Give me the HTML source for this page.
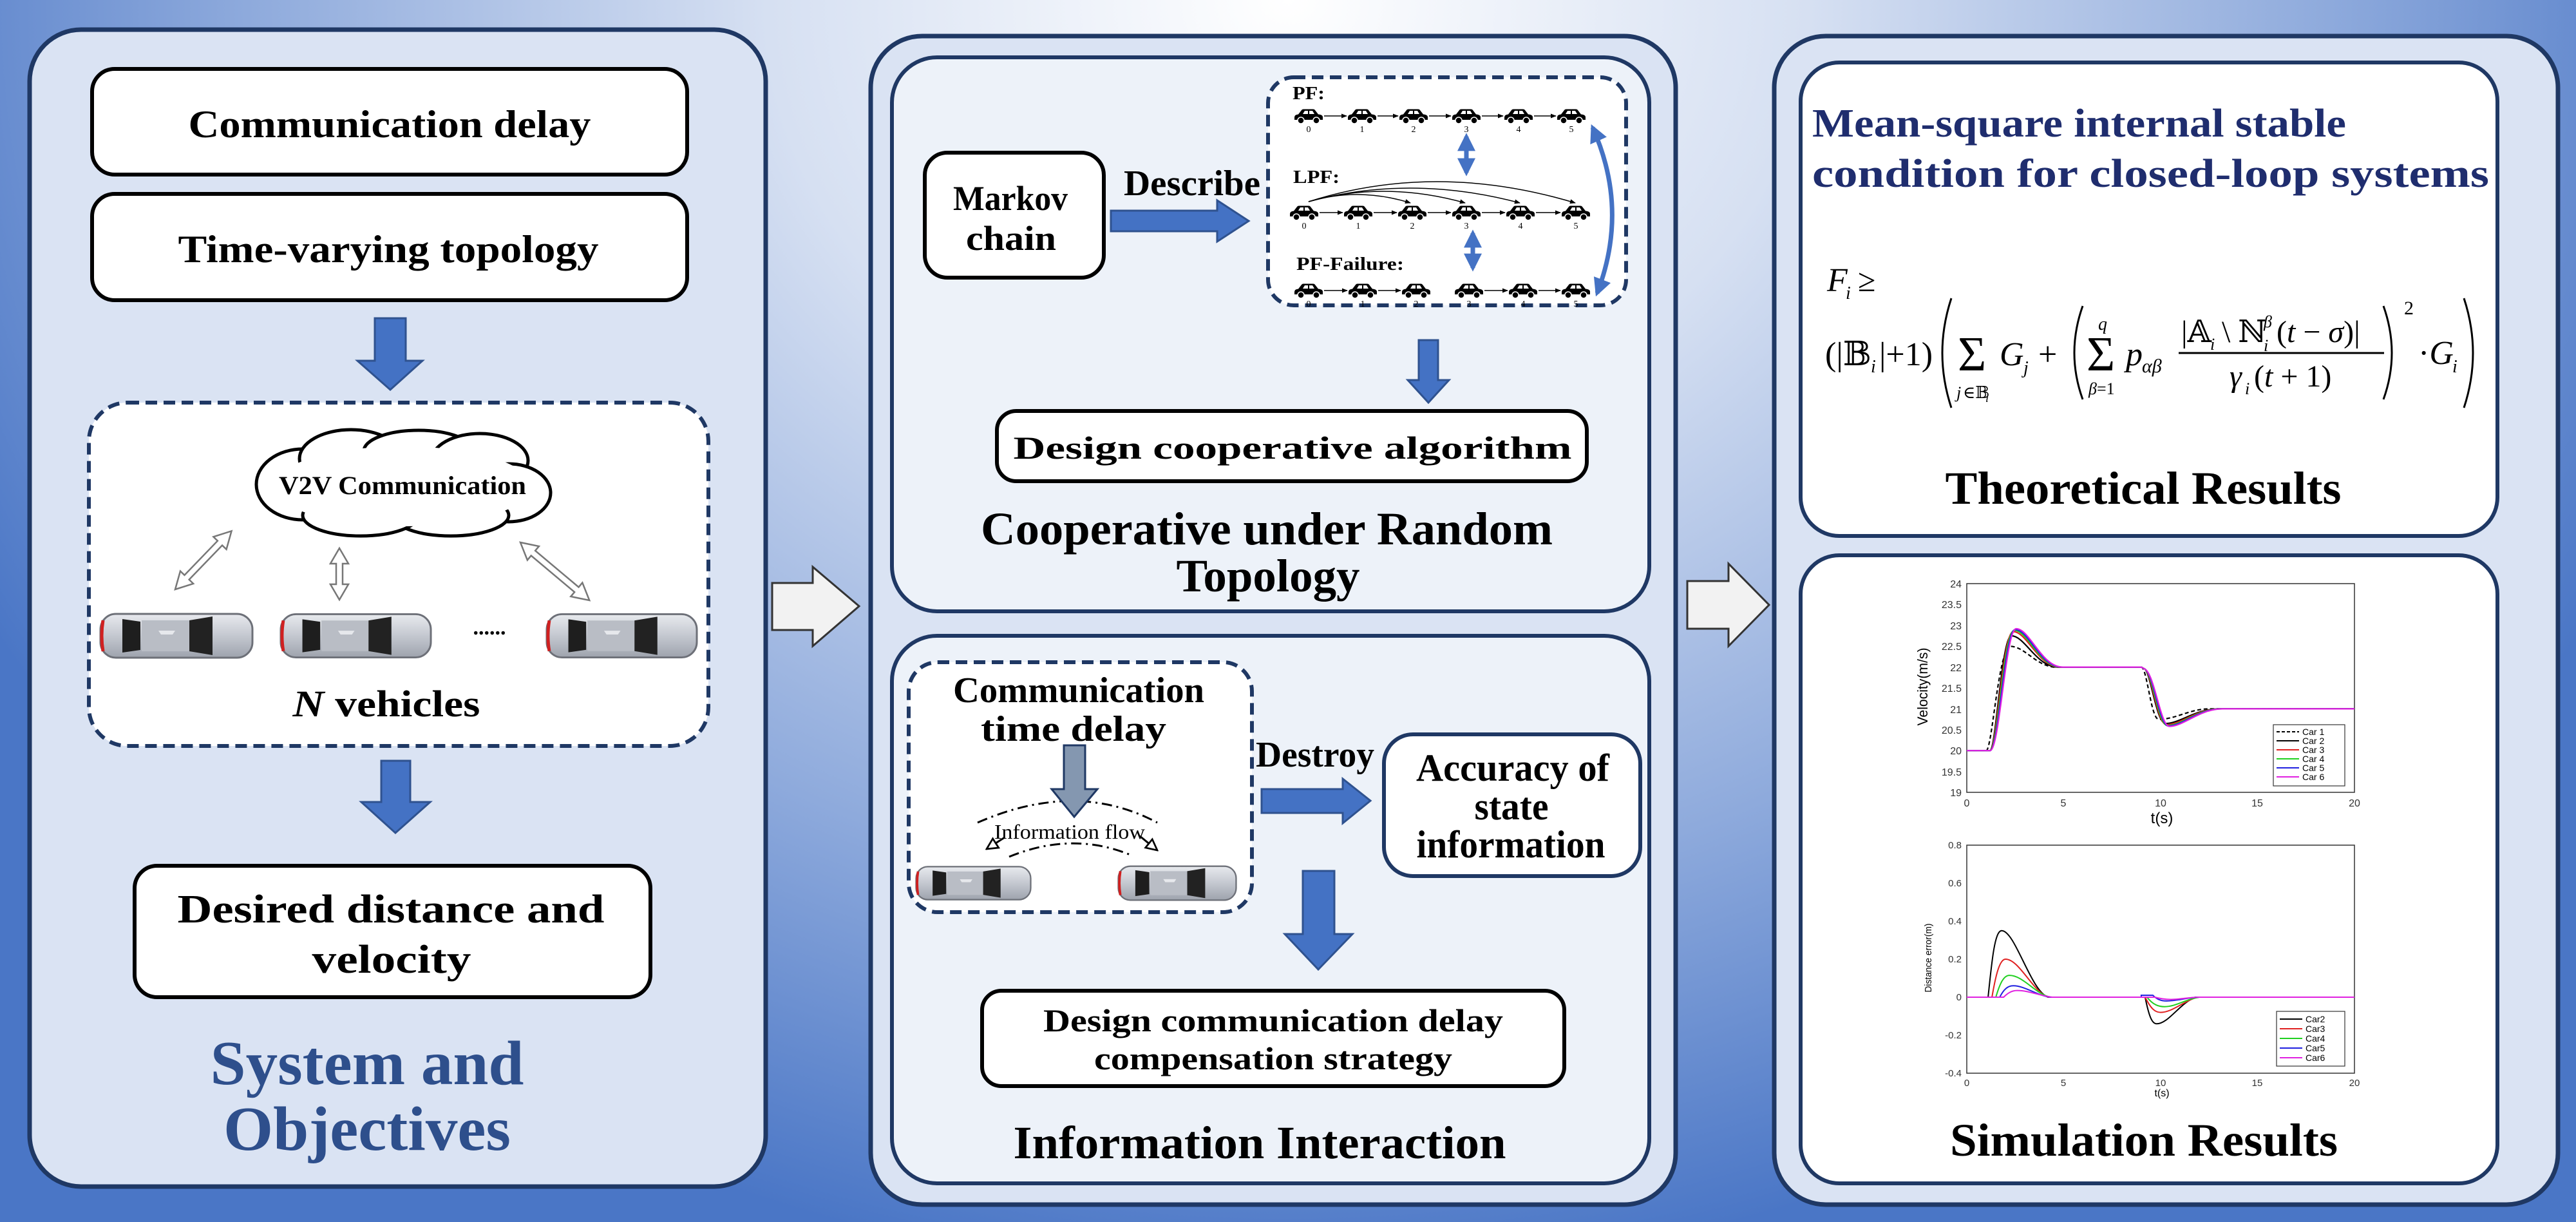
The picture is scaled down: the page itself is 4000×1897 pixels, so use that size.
<!DOCTYPE html>
<html><head><meta charset="utf-8"><style>
html,body{margin:0;padding:0;width:4000px;height:1897px;overflow:hidden}
svg{display:block}
.b{font-family:"Liberation Serif",serif;font-weight:bold}
.m{font-family:"Liberation Serif","DejaVu Serif",serif}
.s{font-family:"Liberation Sans",sans-serif}
</style></head><body>
<svg width="4000" height="1897" viewBox="0 0 4000 1897" xmlns="http://www.w3.org/2000/svg">
<defs>
<radialGradient id="bg" cx="0.5" cy="0" r="1.05" gradientTransform="translate(0.5 0) scale(0.55 1) translate(-0.5 0)">
<stop offset="0" stop-color="#ffffff"/><stop offset="0.35" stop-color="#d6e0f2"/><stop offset="0.7" stop-color="#8eaadc"/><stop offset="1" stop-color="#4a76c6"/></radialGradient>
<linearGradient id="silver" x1="0" y1="0" x2="0" y2="1"><stop offset="0" stop-color="#e8eaee"/><stop offset="0.5" stop-color="#c4c8d0"/><stop offset="1" stop-color="#9ea3ad"/></linearGradient>
<symbol id="car" viewBox="0 0 240 76">
<rect x="2" y="4" width="236" height="68" rx="24" fill="url(#silver)" stroke="#6d7078" stroke-width="3"/>
<path d="M6 14 Q2 38 6 62" stroke="#d02020" stroke-width="5" fill="none"/>
<path d="M36 12 L64 16 L64 60 L36 64 Z" fill="#1e1e1e"/>
<rect x="66" y="14" width="74" height="48" fill="#b9bdc5"/>
<path d="M140 14 L176 8 L176 68 L140 62 Z" fill="#222"/>
<path d="M92 30 L118 30 L114 36 L96 36 Z" fill="#e6e8ec"/>
</symbol>
<symbol id="bcar" viewBox="0 0 46 26">
<path d="M1 19 L1 15 Q1 11 7 10.5 L12 4 Q13 2.5 15 2.5 L30 2.5 Q32 2.5 33 4 L38 10.5 Q45 11 45 15 L45 19 Z" fill="#000"/>
<path d="M14 10 L17 5 L22 5 L22 10 Z M24 10 L24 5 L29 5 L32 10 Z" fill="#fff"/>
<circle cx="11" cy="20" r="5" fill="#000" stroke="#fff" stroke-width="1.5"/>
<circle cx="35" cy="20" r="5" fill="#000" stroke="#fff" stroke-width="1.5"/>
</symbol>
<marker id="ah" viewBox="0 0 10 10" refX="9" refY="5" markerWidth="6" markerHeight="6" orient="auto"><path d="M0 1 L10 5 L0 9Z" fill="#000"/></marker>
<marker id="bh" viewBox="0 0 10 10" refX="8" refY="5" markerWidth="4" markerHeight="4.5" orient="auto-start-reverse"><path d="M0 0 L10 5 L0 10Z" fill="#4472c4"/></marker>
<marker id="oh" viewBox="0 0 10 10" refX="9" refY="5" markerWidth="7" markerHeight="7" orient="auto"><path d="M1 1 L9 5 L1 9Z" fill="#fff" stroke="#000" stroke-width="1.3"/></marker>
</defs>
<rect width="4000" height="1897" fill="url(#bg)"/>

<!-- Panels -->
<rect x="46" y="46" width="1143" height="1796" rx="80" fill="#dae3f3" stroke="#1f3864" stroke-width="7"/>
<rect x="1352" y="56" width="1250" height="1814" rx="80" fill="#dae3f3" stroke="#1f3864" stroke-width="7"/>
<rect x="1385" y="89" width="1176" height="860" rx="70" fill="#edf2f9" stroke="#1f3864" stroke-width="6"/>
<rect x="1385" y="987" width="1176" height="850" rx="70" fill="#edf2f9" stroke="#1f3864" stroke-width="6"/>
<rect x="2755" y="56" width="1217" height="1814" rx="80" fill="#dae3f3" stroke="#1f3864" stroke-width="7"/>
<rect x="2796" y="97" width="1082" height="735" rx="60" fill="#fff" stroke="#1f3864" stroke-width="6"/>
<rect x="2796" y="862" width="1082" height="975" rx="60" fill="#fff" stroke="#1f3864" stroke-width="6"/>

<!-- LEFT PANEL -->
<rect x="143" y="107" width="924" height="164" rx="35" fill="#fff" stroke="#000" stroke-width="6"/>
<text class="b" x="605" y="213" font-size="60" text-anchor="middle" textLength="625" lengthAdjust="spacingAndGlyphs">Communication delay</text>
<rect x="143" y="301" width="924" height="165" rx="35" fill="#fff" stroke="#000" stroke-width="6"/>
<text class="b" x="603" y="407" font-size="60" text-anchor="middle" textLength="653" lengthAdjust="spacingAndGlyphs">Time-varying topology</text>
<polygon points="582,494 630,494 630,560 656,560 606,605 555,560 582,560" fill="#4472c4" stroke="#2f528f" stroke-width="3"/>
<rect x="138" y="625" width="962" height="533" rx="60" fill="#fff" stroke="#1f3864" stroke-width="6" stroke-dasharray="18 10"/>
<g stroke="#000" stroke-width="5" fill="#fff">
<ellipse cx="470" cy="752" rx="72" ry="55"/><ellipse cx="545" cy="712" rx="80" ry="45"/><ellipse cx="650" cy="700" rx="85" ry="32"/>
<ellipse cx="745" cy="715" rx="75" ry="42"/><ellipse cx="790" cy="765" rx="65" ry="45"/><ellipse cx="700" cy="800" rx="90" ry="32"/><ellipse cx="560" cy="800" rx="90" ry="32"/>
</g>
<ellipse cx="625" cy="755" rx="200" ry="62" fill="#fff"/>
<text class="b" x="625" y="767" font-size="40" text-anchor="middle" textLength="384" lengthAdjust="spacingAndGlyphs">V2V Communication</text>
<g fill="#fff" stroke="#777" stroke-width="2.5">
<g transform="translate(272,915) rotate(-46)"><polygon points="0,0 26,-14 26,-5 100,-5 100,-14 126,0 100,14 100,5 26,5 26,14"/></g>
<g transform="translate(527,851) rotate(90)"><polygon points="0,0 24,-14 24,-5 56,-5 56,-14 80,0 56,14 56,5 24,5 24,14"/></g>
<g transform="translate(808,842) rotate(40)"><polygon points="0,0 26,-14 26,-5 114,-5 114,-14 140,0 114,14 114,5 26,5 26,14"/></g>
</g>
<use href="#car" x="153" y="949" width="242" height="76"/>
<use href="#car" x="434" y="949" width="237" height="76"/>
<use href="#car" x="847" y="949" width="237" height="76"/>
<text class="b" x="760" y="985" font-size="34" text-anchor="middle">......</text>
<text class="b" x="600" y="1112" font-size="58" text-anchor="middle" textLength="291" lengthAdjust="spacingAndGlyphs"><tspan font-style="italic">N</tspan> vehicles</text>
<polygon points="592,1181 637,1181 637,1245 668,1245 614,1293 561,1245 592,1245" fill="#4472c4" stroke="#2f528f" stroke-width="3"/>
<rect x="209" y="1344" width="801" height="204" rx="35" fill="#fff" stroke="#000" stroke-width="6"/>
<text class="b" x="607" y="1432" font-size="62" text-anchor="middle" textLength="663" lengthAdjust="spacingAndGlyphs">Desired distance and</text>
<text class="b" x="608" y="1510" font-size="62" text-anchor="middle" textLength="247" lengthAdjust="spacingAndGlyphs">velocity</text>
<text class="b" x="570" y="1683" font-size="98" text-anchor="middle" fill="#2e4f8c" textLength="487" lengthAdjust="spacingAndGlyphs">System and</text>
<text class="b" x="570" y="1785" font-size="98" text-anchor="middle" fill="#2e4f8c" textLength="446" lengthAdjust="spacingAndGlyphs">Objectives</text>

<polygon points="1199,905 1262,905 1262,880 1334,941 1262,1003 1262,978 1199,978" fill="#f2f2f2" stroke="#333" stroke-width="3"/>
<polygon points="2620,902 2684,902 2684,875 2747,939 2684,1003 2684,976 2620,976" fill="#f2f2f2" stroke="#333" stroke-width="3"/>

<!-- MIDDLE TOP -->
<rect x="1436" y="237" width="278" height="194" rx="35" fill="#fff" stroke="#000" stroke-width="6"/>
<text class="b" x="1569" y="326" font-size="54" text-anchor="middle" textLength="178" lengthAdjust="spacingAndGlyphs">Markov</text>
<text class="b" x="1570" y="388" font-size="54" text-anchor="middle" textLength="140" lengthAdjust="spacingAndGlyphs">chain</text>
<text class="b" x="1851" y="303" font-size="56" text-anchor="middle" textLength="212" lengthAdjust="spacingAndGlyphs">Describe</text>
<polygon points="1725,327 1890,327 1890,311 1939,343 1890,375 1890,359 1725,359" fill="#4472c4" stroke="#2f528f" stroke-width="3"/>
<rect x="1969" y="120" width="556" height="354" rx="40" fill="#fff" stroke="#1f3864" stroke-width="6" stroke-dasharray="18 10"/>
<text class="b" x="2007" y="154" font-size="28" textLength="50" lengthAdjust="spacingAndGlyphs">PF:</text>
<text class="b" x="2008" y="284" font-size="28" textLength="72" lengthAdjust="spacingAndGlyphs">LPF:</text>
<text class="b" x="2013" y="419" font-size="28" textLength="167" lengthAdjust="spacingAndGlyphs">PF-Failure:</text>
<g>
<use href="#bcar" x="2009" y="167" width="46" height="26"/><use href="#bcar" x="2092" y="167" width="46" height="26"/><use href="#bcar" x="2172" y="167" width="46" height="26"/><use href="#bcar" x="2254" y="167" width="46" height="26"/><use href="#bcar" x="2335" y="167" width="46" height="26"/><use href="#bcar" x="2417" y="167" width="46" height="26"/>
<use href="#bcar" x="2002" y="317" width="46" height="26"/><use href="#bcar" x="2086" y="317" width="46" height="26"/><use href="#bcar" x="2170" y="317" width="46" height="26"/><use href="#bcar" x="2254" y="317" width="46" height="26"/><use href="#bcar" x="2338" y="317" width="46" height="26"/><use href="#bcar" x="2424" y="317" width="46" height="26"/>
<use href="#bcar" x="2009" y="438" width="46" height="26"/><use href="#bcar" x="2093" y="438" width="46" height="26"/><use href="#bcar" x="2176" y="438" width="46" height="26"/><use href="#bcar" x="2258" y="438" width="46" height="26"/><use href="#bcar" x="2342" y="438" width="46" height="26"/><use href="#bcar" x="2424" y="438" width="46" height="26"/>
</g>
<g stroke="#000" stroke-width="1.5" marker-end="url(#ah)">
<line x1="2056" y1="180" x2="2091" y2="180"/><line x1="2139" y1="180" x2="2171" y2="180"/><line x1="2219" y1="180" x2="2253" y2="180"/><line x1="2301" y1="180" x2="2334" y2="180"/><line x1="2382" y1="180" x2="2416" y2="180"/>
<line x1="2049" y1="330" x2="2085" y2="330"/><line x1="2133" y1="330" x2="2169" y2="330"/><line x1="2217" y1="330" x2="2253" y2="330"/><line x1="2301" y1="330" x2="2337" y2="330"/><line x1="2385" y1="330" x2="2423" y2="330"/>
<line x1="2056" y1="451" x2="2092" y2="451"/><line x1="2140" y1="451" x2="2175" y2="451"/><line x1="2305" y1="451" x2="2341" y2="451"/><line x1="2389" y1="451" x2="2423" y2="451"/>
</g>
<g stroke="#000" stroke-width="1.5" fill="none" marker-end="url(#ah)">
<path d="M2032 313 Q2110 290 2190 315"/><path d="M2032 313 Q2150 280 2275 315"/><path d="M2032 313 Q2190 270 2360 315"/><path d="M2032 313 Q2230 250 2446 315"/>
</g>
<g class="m" font-size="14" text-anchor="middle">
<text x="2032" y="205">0</text><text x="2115" y="205">1</text><text x="2195" y="205">2</text><text x="2277" y="205">3</text><text x="2358" y="205">4</text><text x="2440" y="205">5</text>
<text x="2025" y="355">0</text><text x="2109" y="355">1</text><text x="2193" y="355">2</text><text x="2277" y="355">3</text><text x="2361" y="355">4</text><text x="2447" y="355">5</text>
<text x="2032" y="476">0</text><text x="2116" y="476">1</text><text x="2199" y="476">2</text><text x="2281" y="476">3</text><text x="2365" y="476">4</text><text x="2447" y="476">5</text>
</g>
<g stroke="#4472c4" stroke-width="7" fill="none" marker-start="url(#bh)" marker-end="url(#bh)">
<line x1="2277" y1="212" x2="2277" y2="268"/><line x1="2287" y1="362" x2="2287" y2="416"/>
<path d="M2473 198 Q2530 325 2480 455"/>
</g>
<polygon points="2203,528 2233,528 2233,590 2250,590 2218,625 2186,590 2203,590" fill="#4472c4" stroke="#2f528f" stroke-width="3"/>
<rect x="1548" y="638" width="916" height="109" rx="30" fill="#fff" stroke="#000" stroke-width="6"/>
<text class="b" x="2007" y="712" font-size="50" text-anchor="middle" textLength="867" lengthAdjust="spacingAndGlyphs">Design cooperative algorithm</text>
<text class="b" x="1967" y="845" font-size="72" text-anchor="middle" textLength="888" lengthAdjust="spacingAndGlyphs">Cooperative under Random</text>
<text class="b" x="1969" y="918" font-size="72" text-anchor="middle" textLength="285" lengthAdjust="spacingAndGlyphs">Topology</text>

<!-- MIDDLE BOTTOM -->
<rect x="1411" y="1028" width="533" height="388" rx="45" fill="#fff" stroke="#1f3864" stroke-width="6" stroke-dasharray="18 10"/>
<text class="b" x="1675" y="1090" font-size="56" text-anchor="middle" textLength="390" lengthAdjust="spacingAndGlyphs">Communication</text>
<text class="b" x="1667" y="1150" font-size="56" text-anchor="middle" textLength="288" lengthAdjust="spacingAndGlyphs">time delay</text>
<g stroke="#000" stroke-width="3" fill="none" stroke-dasharray="16 7 3 7">
<path d="M1518 1277 Q1671 1210 1797 1277"/>
<path d="M1567 1330 Q1665 1290 1755 1327"/>
</g>
<line x1="1560" y1="1300" x2="1532" y2="1318" stroke="#000" stroke-width="3" marker-end="url(#oh)"/>
<line x1="1770" y1="1298" x2="1797" y2="1320" stroke="#000" stroke-width="3" marker-end="url(#oh)"/>
<text class="m" x="1661" y="1302" font-size="32" text-anchor="middle" textLength="234" lengthAdjust="spacingAndGlyphs">Information flow</text>
<polygon points="1652,1157 1685,1157 1685,1225 1704,1225 1668,1268 1633,1225 1652,1225" fill="#8497b0" stroke="#1f3864" stroke-width="3"/>
<use href="#car" x="1421" y="1339" width="181" height="64"/>
<use href="#car" x="1735" y="1339" width="186" height="64"/>
<text class="b" x="2042" y="1190" font-size="56" text-anchor="middle" textLength="184" lengthAdjust="spacingAndGlyphs">Destroy</text>
<polygon points="1959,1225 2085,1225 2085,1209 2128,1243 2085,1278 2085,1262 1959,1262" fill="#4472c4" stroke="#2f528f" stroke-width="3"/>
<rect x="2149" y="1140" width="398" height="220" rx="45" fill="#fff" stroke="#1f3864" stroke-width="6"/>
<text class="b" x="2349" y="1212" font-size="60" text-anchor="middle" textLength="300" lengthAdjust="spacingAndGlyphs">Accuracy of</text>
<text class="b" x="2347" y="1272" font-size="60" text-anchor="middle" textLength="115" lengthAdjust="spacingAndGlyphs">state</text>
<text class="b" x="2346" y="1331" font-size="60" text-anchor="middle" textLength="293" lengthAdjust="spacingAndGlyphs">information</text>
<polygon points="2023,1352 2072,1352 2072,1450 2100,1450 2047,1505 1995,1450 2023,1450" fill="#4472c4" stroke="#2f528f" stroke-width="3"/>
<rect x="1525" y="1538" width="904" height="148" rx="30" fill="#fff" stroke="#000" stroke-width="6"/>
<text class="b" x="1977" y="1601" font-size="50" text-anchor="middle" textLength="714" lengthAdjust="spacingAndGlyphs">Design communication delay</text>
<text class="b" x="1977" y="1660" font-size="50" text-anchor="middle" textLength="556" lengthAdjust="spacingAndGlyphs">compensation strategy</text>
<text class="b" x="1956" y="1798" font-size="72" text-anchor="middle" textLength="765" lengthAdjust="spacingAndGlyphs">Information Interaction</text>

<!-- RIGHT TOP -->
<text class="b" x="2814" y="212" font-size="62" fill="#1f2d6e" textLength="829" lengthAdjust="spacingAndGlyphs">Mean-square internal stable</text>
<text class="b" x="2814" y="290" font-size="62" fill="#1f2d6e" textLength="1051" lengthAdjust="spacingAndGlyphs">condition for closed-loop systems</text>
<g class="m" fill="#000">
<text x="2837" y="452" font-size="52" font-style="italic">F</text><text x="2866" y="464" font-size="28" font-style="italic">i</text><text x="2885" y="452" font-size="50">≥</text>
<text x="2834" y="567" font-size="52">(|𝔹</text><text x="2905" y="578" font-size="28" font-style="italic">i</text><text x="2918" y="567" font-size="52">|+1)</text>
<text x="3040" y="575" font-size="76">Σ</text>
<text x="3038" y="618" font-size="26" font-style="italic">j</text><text x="3048" y="618" font-size="26">∈𝔹</text><text x="3083" y="624" font-size="18" font-style="italic">i</text>
<text x="3105" y="567" font-size="52" font-style="italic">G</text><text x="3142" y="580" font-size="28" font-style="italic">j</text>
<text x="3165" y="567" font-size="52">+</text>
<text x="3258" y="512" font-size="28" font-style="italic">q</text>
<text x="3240" y="575" font-size="76">Σ</text>
<text x="3243" y="612" font-size="26"><tspan font-style="italic">β</tspan>=1</text>
<text x="3301" y="567" font-size="52" font-style="italic">p</text><text x="3326" y="578" font-size="30" font-style="italic">αβ</text>
<text x="3387" y="531" font-size="48">|𝔸</text><text x="3432" y="543" font-size="26" font-style="italic">i</text>
<text x="3450" y="531" font-size="48">\ ℕ</text><text x="3515" y="508" font-size="26" font-style="italic">β</text><text x="3515" y="545" font-size="26" font-style="italic">i</text>
<text x="3535" y="531" font-size="48">(<tspan font-style="italic">t</tspan> − <tspan font-style="italic">σ</tspan>)|</text>
<line x1="3383" y1="548" x2="3702" y2="548" stroke="#000" stroke-width="3"/>
<text x="3462" y="600" font-size="48" font-style="italic">γ</text><text x="3486" y="612" font-size="26" font-style="italic">i</text>
<text x="3500" y="600" font-size="48">(<tspan font-style="italic">t</tspan> + 1)</text>
<text x="3733" y="488" font-size="30">2</text>
<text x="3755" y="565" font-size="52">·<tspan font-style="italic">G</tspan></text><text x="3808" y="578" font-size="28" font-style="italic">i</text>
</g>
<g fill="none" stroke="#000" stroke-width="3">
<path d="M3030 463 Q3002 548 3030 633"/><path d="M3234 475 Q3208 548 3234 620"/>
<path d="M3701 475 Q3727 548 3701 620"/><path d="M3826 463 Q3854 548 3826 633"/>
</g>
<text class="b" x="3328" y="782" font-size="72" text-anchor="middle" textLength="615" lengthAdjust="spacingAndGlyphs">Theoretical Results</text>

<!-- RIGHT BOTTOM: plots -->
<rect x="3054" y="906" width="602" height="324" fill="#fff" stroke="#333" stroke-width="1.5"/>
<g class="s" font-size="16" fill="#333" text-anchor="end">
<text x="3046" y="1236">19</text><text x="3046" y="1204">19.5</text><text x="3046" y="1171">20</text><text x="3046" y="1139">20.5</text><text x="3046" y="1107">21</text><text x="3046" y="1074">21.5</text><text x="3046" y="1042">22</text><text x="3046" y="1009">22.5</text><text x="3046" y="977">23</text><text x="3046" y="944">23.5</text><text x="3046" y="912">24</text>
</g>
<g class="s" font-size="16" fill="#333" text-anchor="middle">
<text x="3054" y="1252">0</text><text x="3204" y="1252">5</text><text x="3355" y="1252">10</text><text x="3505" y="1252">15</text><text x="3656" y="1252">20</text>
</g>
<text class="s" x="3357" y="1278" font-size="24" text-anchor="middle">t(s)</text>
<text class="s" x="2993" y="1066" font-size="22" text-anchor="middle" transform="rotate(-90 2993 1066)" textLength="121" lengthAdjust="spacingAndGlyphs">Velocity(m/s)</text>
<g fill="none" stroke-width="2.2" transform="translate(3054,1230) scale(30.1,-64.8) translate(0,-19)">
<path vector-effect="non-scaling-stroke" stroke="#000" stroke-dasharray="6 4" d="M0 20 L1 20 C1.3 20 1.6 22.3 2.2 22.5 C3 22.5 3.5 22.05 4.5 22 L9 22 C9.3 22 9.5 20.75 9.9 20.75 C10.8 20.75 11.5 21 12.5 21 L20 21"/>
<path vector-effect="non-scaling-stroke" stroke="#000" d="M0 20 L1.2 20 C1.5 20 1.8 22.75 2.3 22.75 C3 22.75 3.6 22 4.7 22 L9 22 L9.2 21.95 C9.5 21.8 9.8 20.65 10.25 20.65 C11 20.65 11.8 21 13 21 L20 21"/>
<path vector-effect="non-scaling-stroke" stroke="#e02020" d="M0 20 L1.2 20 C1.55 20 1.85 22.85 2.4 22.85 C3.1 22.85 3.7 22 4.8 22 L9 22 L9.2 21.95 C9.55 21.8 9.85 20.62 10.3 20.62 C11.05 20.62 11.85 21 13.05 21 L20 21"/>
<path vector-effect="non-scaling-stroke" stroke="#20d020" d="M0 20 L1.2 20 C1.6 20 1.9 22.88 2.45 22.88 C3.15 22.88 3.75 22 4.85 22 L9 22 L9.2 21.95 C9.6 21.8 9.9 20.6 10.35 20.6 C11.1 20.6 11.9 21 13.1 21 L20 21"/>
<path vector-effect="non-scaling-stroke" stroke="#2020e0" d="M0 20 L1.2 20 C1.65 20 1.95 22.9 2.5 22.9 C3.2 22.9 3.8 22 4.9 22 L9 22 L9.2 21.95 C9.65 21.8 9.95 20.59 10.4 20.59 C11.15 20.59 11.95 21 13.15 21 L20 21"/>
<path vector-effect="non-scaling-stroke" stroke="#e020e0" d="M0 20 L1.2 20 C1.7 20 2 22.92 2.55 22.92 C3.25 22.92 3.85 22 4.95 22 L9 22 L9.2 21.95 C9.7 21.8 10 20.58 10.45 20.58 C11.2 20.58 12 21 13.2 21 L20 21"/>
</g>
<rect x="3530" y="1125" width="111" height="95" fill="#fff" stroke="#333" stroke-width="1.2"/>
<g stroke-width="2" class="s" font-size="14">
<line x1="3535" y1="1136" x2="3570" y2="1136" stroke="#000" stroke-dasharray="5 3"/><text x="3575" y="1141" stroke="none">Car 1</text>
<line x1="3535" y1="1150" x2="3570" y2="1150" stroke="#000"/><text x="3575" y="1155" stroke="none">Car 2</text>
<line x1="3535" y1="1164" x2="3570" y2="1164" stroke="#e02020"/><text x="3575" y="1169" stroke="none">Car 3</text>
<line x1="3535" y1="1178" x2="3570" y2="1178" stroke="#20d020"/><text x="3575" y="1183" stroke="none">Car 4</text>
<line x1="3535" y1="1192" x2="3570" y2="1192" stroke="#2020e0"/><text x="3575" y="1197" stroke="none">Car 5</text>
<line x1="3535" y1="1206" x2="3570" y2="1206" stroke="#e020e0"/><text x="3575" y="1211" stroke="none">Car 6</text>
</g>

<rect x="3054" y="1312" width="602" height="354" fill="#fff" stroke="#333" stroke-width="1.5"/>
<g class="s" font-size="15" fill="#333" text-anchor="end">
<text x="3046" y="1671">-0.4</text><text x="3046" y="1612">-0.2</text><text x="3046" y="1553">0</text><text x="3046" y="1494">0.2</text><text x="3046" y="1435">0.4</text><text x="3046" y="1376">0.6</text><text x="3046" y="1317">0.8</text>
</g>
<g class="s" font-size="15" fill="#333" text-anchor="middle">
<text x="3054" y="1686">0</text><text x="3204" y="1686">5</text><text x="3355" y="1686">10</text><text x="3505" y="1686">15</text><text x="3656" y="1686">20</text>
</g>
<text class="s" x="3357" y="1702" font-size="16" text-anchor="middle">t(s)</text>
<text class="s" x="2999" y="1487" font-size="15" text-anchor="middle" transform="rotate(-90 2999 1487)" textLength="107" lengthAdjust="spacingAndGlyphs">Distance error(m)</text>
<g fill="none" transform="translate(3054,1666) scale(30.1,-295) translate(0,0.4)">
<path vector-effect="non-scaling-stroke" stroke-width="2" stroke="#000" d="M0 0 L1.1 0 C1.3 0.2 1.45 0.35 1.8 0.35 C2.5 0.35 3.3 0.03 4.2 0 L9.2 0 C9.4 -0.1 9.55 -0.14 9.8 -0.14 C10.4 -0.14 11 -0.03 11.8 0 L20 0"/>
<path vector-effect="non-scaling-stroke" stroke-width="2" stroke="#e02020" d="M0 0 L1.3 0 C1.5 0.12 1.7 0.2 2 0.2 C2.7 0.2 3.4 0.03 4.2 0 L9.2 0 C9.5 -0.06 9.7 -0.08 10 -0.08 C10.6 -0.08 11.2 -0.02 11.9 0 L20 0"/>
<path vector-effect="non-scaling-stroke" stroke-width="2" stroke="#20d020" d="M0 0 L1.5 0 C1.7 0.07 1.9 0.115 2.2 0.115 C2.9 0.115 3.5 0.02 4.3 0 L9.3 0 C9.6 -0.04 9.9 -0.05 10.2 -0.05 C10.8 -0.05 11.3 -0.01 12 0 L20 0"/>
<path vector-effect="non-scaling-stroke" stroke-width="2" stroke="#2020e0" d="M0 0 L1.7 0 C1.9 0.04 2.1 0.06 2.4 0.06 C3 0.06 3.6 0.01 4.3 0 L9 0 L9 0.01 L9.6 0.01 C9.8 -0.01 10 -0.02 10.3 -0.02 C10.9 -0.02 11.4 0 12 0 L20 0"/>
<path vector-effect="non-scaling-stroke" stroke-width="2" stroke="#e020e0" d="M0 0 L1.9 0 C2.1 0.02 2.3 0.035 2.6 0.035 C3.2 0.035 3.7 0.01 4.4 0 L9.7 0 C10 -0.008 10.3 -0.012 10.5 -0.012 C11 -0.012 11.5 0 12 0 L20 0"/>
</g>
<rect x="3535" y="1570" width="106" height="85" fill="#fff" stroke="#333" stroke-width="1.2"/>
<g stroke-width="2" class="s" font-size="14">
<line x1="3540" y1="1582" x2="3575" y2="1582" stroke="#000"/><text x="3580" y="1587" stroke="none">Car2</text>
<line x1="3540" y1="1597" x2="3575" y2="1597" stroke="#e02020"/><text x="3580" y="1602" stroke="none">Car3</text>
<line x1="3540" y1="1612" x2="3575" y2="1612" stroke="#20d020"/><text x="3580" y="1617" stroke="none">Car4</text>
<line x1="3540" y1="1627" x2="3575" y2="1627" stroke="#2020e0"/><text x="3580" y="1632" stroke="none">Car5</text>
<line x1="3540" y1="1642" x2="3575" y2="1642" stroke="#e020e0"/><text x="3580" y="1647" stroke="none">Car6</text>
</g>
<text class="b" x="3329" y="1794" font-size="72" text-anchor="middle" textLength="602" lengthAdjust="spacingAndGlyphs">Simulation Results</text>
</svg>
</body></html>
